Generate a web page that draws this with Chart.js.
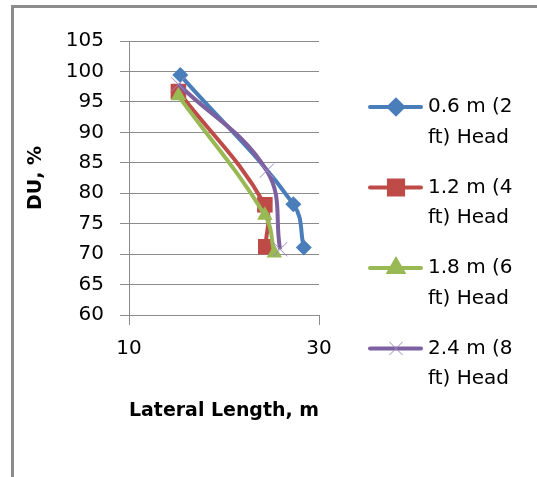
<!DOCTYPE html>
<html>
<head>
<meta charset="utf-8">
<script src="https://cdn.jsdelivr.net/npm/chart.js@4.4.1/dist/chart.umd.min.js"></script>
<style>
    html, body { margin: 0; padding: 0; background: #fff; overflow: hidden; }
    #frame {
        position: absolute; left: 11px; top: 5px;
        width: 700px; height: 700px;
        border: 3px solid #8c8c8c;
    }
    #wrap { position: absolute; left: 0; top: 0; width: 537px; height: 477px; }
</style>
</head>
<body>
<div id="frame"></div>
<div id="wrap"><canvas id="duChart" width="537" height="477"></canvas></div>
<script>
// lateral length (m) vs distribution uniformity (%) for four inlet heads
const headLabels = [
    ['0.6 m (2', 'ft) Head'],
    ['1.2 m (4', 'ft) Head'],
    ['1.8 m (6', 'ft) Head'],
    ['2.4 m (8', 'ft) Head']
];
const length06 = [15.4, 27.3, 28.4];
const du06 = [99.4, 78.2, 71.1];
const length12 = [15.2, 24.3, 24.4];
const du12 = [96.7, 78.1, 71.2];
const length18 = [15.2, 24.3, 25.3];
const du18 = [96.0, 76.4, 70.2];
const length24 = [15.2, 24.5, 25.9];
const du24 = [97.9, 83.7, 70.8];

const yTicks = [60, 65, 70, 75, 80, 85, 90, 95, 100, 105];
const xTicks = [10, 30];

const FONT = 'DejaVu Sans';
const GRID = '#8c8c8c';

function pairs(xs, ys) {
    return xs.map((x, i) => ({ x: x, y: ys[i] }));
}

const styles = [
    { color: '#4a7ebb', point: 'rectRot', radius: 8, order: 3 },
    { color: '#be4b48', point: 'rect', radius: 11, order: 2 },
    { color: '#98b954', point: 'triangle', radius: 9, order: 1 },
    { color: '#7d60a0', point: 'crossRot', radius: 10, order: 0 }
];
const series = [
    pairs(length06, du06),
    pairs(length12, du12),
    pairs(length18, du18),
    pairs(length24, du24)
];

const datasets = series.map((data, i) => {
    const s = styles[i];
    return {
        label: headLabels[i].join(' '),
        data: data,
        showLine: true,
        tension: 0.4,
        borderColor: s.color,
        borderWidth: 4,
        backgroundColor: s.color,
        pointStyle: s.point,
        pointRadius: s.radius,
        pointBorderWidth: s.point === 'crossRot' ? 1 : 0,
        pointBorderColor: s.point === 'crossRot' ? '#9d86c0' : s.color,
        order: s.order
    };
});

// legend on the right, two text lines per entry
const sideLegend = {
    id: 'sideLegend',
    afterDraw(chart) {
        const ctx = chart.ctx;
        ctx.save();
        ctx.font = '20px "' + FONT + '"';
        ctx.textBaseline = 'middle';
        ctx.fillStyle = '#000';
        headLabels.forEach((lines, i) => {
            const s = styles[i];
            const y = 107 + i * 80.5;
            ctx.strokeStyle = s.color;
            ctx.lineWidth = 4;
            ctx.lineCap = 'round';
            ctx.beginPath();
            ctx.moveTo(370, y);
            ctx.lineTo(421, y);
            ctx.stroke();
            ctx.fillStyle = s.color;
            ctx.strokeStyle = s.point === 'crossRot' ? '#9d86c0' : s.color;
            ctx.lineWidth = s.point === 'crossRot' ? 1 : 0;
            Chart.helpers.drawPoint(ctx, { pointStyle: s.point, radius: s.point === 'rectRot' ? 7 : s.radius - 1, borderWidth: ctx.lineWidth }, 396, y);
            ctx.fillStyle = '#000';
            ctx.fillText(lines[0], 428, y);
            ctx.fillText(lines[1], 428, y + 30.5);
        });
        ctx.restore();
    }
};

new Chart(document.getElementById('duChart'), {
    type: 'scatter',
    data: { datasets: datasets },
    plugins: [sideLegend],
    options: {
        responsive: false,
        animation: false,
        layout: { padding: { left: 25, top: 41, right: 218, bottom: 55 } },
        plugins: {
            legend: { display: false },
            tooltip: { enabled: false }
        },
        scales: {
            x: {
                type: 'linear',
                min: 10,
                max: 30,
                afterBuildTicks: (scale) => { scale.ticks = xTicks.map(v => ({ value: v })); },
                afterFit: (scale) => { scale.height = 477 - 315 - 55; },
                grid: { drawOnChartArea: false, drawTicks: true, tickLength: 10, color: GRID },
                border: { color: GRID, width: 1 },
                ticks: { color: '#000', font: { family: FONT, size: 20 }, padding: 12, maxRotation: 0 },
                title: {
                    display: true,
                    text: 'Lateral Length, m',
                    color: '#000',
                    font: { family: FONT, size: 19, weight: 'bold' },
                    padding: { top: 9, bottom: 0 }
                }
            },
            y: {
                type: 'linear',
                min: 60,
                max: 105,
                afterBuildTicks: (scale) => { scale.ticks = yTicks.map(v => ({ value: v })); },
                afterFit: (scale) => { scale.width = 129 - 25; },
                grid: { drawTicks: true, tickLength: 9, color: GRID },
                border: { color: GRID, width: 1 },
                ticks: { color: '#000', font: { family: FONT, size: 20 }, padding: 16 },
                title: {
                    display: true,
                    text: 'DU, %',
                    color: '#000',
                    font: { family: FONT, size: 19, weight: 'bold' },
                    padding: 0
                }
            }
        }
    }
});
</script>
</body>
</html>
